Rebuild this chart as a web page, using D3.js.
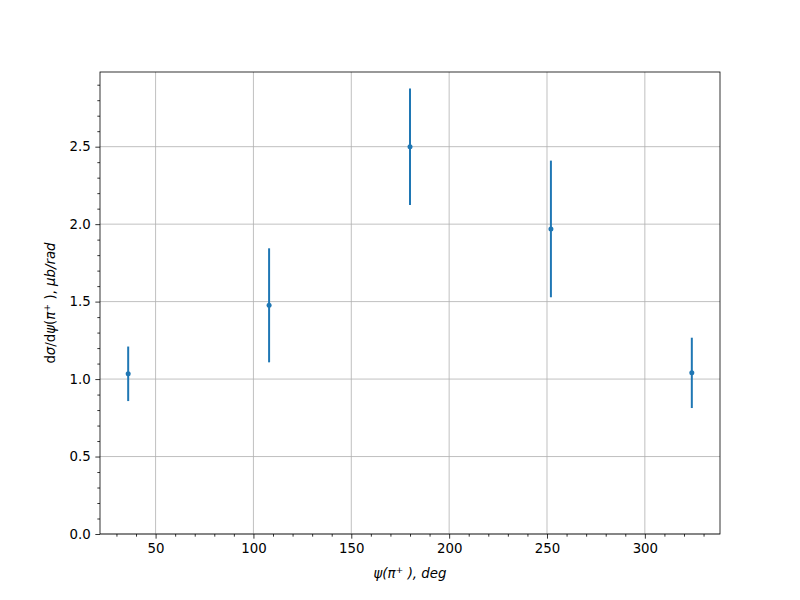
<!DOCTYPE html>
<html><head><meta charset="utf-8">
<script src="https://cdn.jsdelivr.net/npm/d3@7"></script>
<style>body{margin:0;background:#fff}svg{display:block}text{font-family:"DejaVu Sans",sans-serif}</style>
</head><body>
<script>
const psiDeg = [36, 108, 180, 252, 324];
const xsec = [1.034, 1.476, 2.50, 1.969, 1.040];
const xsecErr = [0.176, 0.368, 0.376, 0.441, 0.227];
const xTicks = [50, 100, 150, 200, 250, 300];
const yTicks = [0, 0.5, 1.0, 1.5, 2.0, 2.5];

const W = 800, H = 600;
const L = 100, R = 720, T = 72, B = 534;
const svg = d3.select("body").append("svg").attr("width", W).attr("height", H);
const x = d3.scaleLinear().domain([21.6, 338.4]).range([L, R]);
const y = d3.scaleLinear().domain([0, 2.982]).range([B, T]);
const fs = 13.33;

// grid
const g = svg.append("g");
g.selectAll(".gx").data(xTicks).join("line")
  .attr("x1", d => x(d)).attr("x2", d => x(d)).attr("y1", T).attr("y2", B)
  .attr("stroke", "#b0b0b0").attr("stroke-width", 0.8);
g.selectAll(".gy").data(yTicks).join("line")
  .attr("y1", d => y(d)).attr("y2", d => y(d)).attr("x1", L).attr("x2", R)
  .attr("stroke", "#b0b0b0").attr("stroke-width", 0.8);

// axes
const xAxis = d3.axisBottom(x).tickValues(xTicks).tickSize(4.67).tickPadding(4.7).tickFormat(d3.format("d"));
const yAxis = d3.axisLeft(y).tickValues(yTicks).tickSize(4.67).tickPadding(4.7).tickFormat(d3.format(".1f"));
const xMinor = d3.range(30, 340, 10).filter(v => v % 50 !== 0);
const yMinor = d3.range(1, 30).map(i => i / 10).filter(v => Math.abs(v * 2 - Math.round(v * 2)) > 1e-9);
const ax = svg.append("g").attr("transform", `translate(0,${B})`).call(xAxis);
svg.append("g").attr("transform", `translate(0,${B})`)
  .call(d3.axisBottom(x).tickValues(xMinor).tickSize(2.67).tickFormat(""));
const ay = svg.append("g").attr("transform", `translate(${L},0)`).call(yAxis);
svg.append("g").attr("transform", `translate(${L},0)`)
  .call(d3.axisLeft(y).tickValues(yMinor).tickSize(2.67).tickFormat(""));
svg.selectAll(".domain").remove();
svg.selectAll(".tick line").attr("stroke", "#000").attr("stroke-width", 0.8);
svg.selectAll(".tick text").attr("font-size", fs).attr("fill", "#000").attr("font-family", "DejaVu Sans");

// frame
svg.append("rect").attr("x", L).attr("y", T).attr("width", R - L).attr("height", B - T)
  .attr("fill", "none").attr("stroke", "#000").attr("stroke-width", 0.8);

// error bars
const c = "#1f77b4";
svg.append("g").selectAll("line").data(psiDeg).join("line")
  .attr("x1", d => x(d)).attr("x2", d => x(d))
  .attr("y1", (d, i) => y(xsec[i] - xsecErr[i])).attr("y2", (d, i) => y(xsec[i] + xsecErr[i]))
  .attr("stroke", c).attr("stroke-width", 2);
svg.append("g").selectAll("circle").data(psiDeg).join("circle")
  .attr("cx", d => x(d)).attr("cy", (d, i) => y(xsec[i])).attr("r", 2.5).attr("fill", c);

// labels
const xl = svg.append("text").attr("x", (L + R) / 2).attr("y", 578).attr("text-anchor", "middle")
  .attr("font-size", fs).attr("font-style", "italic");
xl.append("tspan").text("ψ(π");
xl.append("tspan").attr("font-size", fs * 0.7).attr("dy", -5).text("+");
xl.append("tspan").attr("dy", 5).text(" ), deg");

const yl = svg.append("text").attr("transform", `translate(55,${(T + B) / 2}) rotate(-90)`)
  .attr("text-anchor", "middle").attr("font-size", fs);
yl.append("tspan").text("d");
yl.append("tspan").attr("font-style", "italic").text("σ");
yl.append("tspan").text("/d");
yl.append("tspan").attr("font-style", "italic").text("ψ");
yl.append("tspan").text("(");
yl.append("tspan").attr("font-style", "italic").text("π");
yl.append("tspan").attr("font-size", fs * 0.7).attr("dy", -5).text("+");
yl.append("tspan").attr("dy", 5).text(" ), ");
yl.append("tspan").attr("font-style", "italic").text("μb/rad");
</script>
</body></html>
